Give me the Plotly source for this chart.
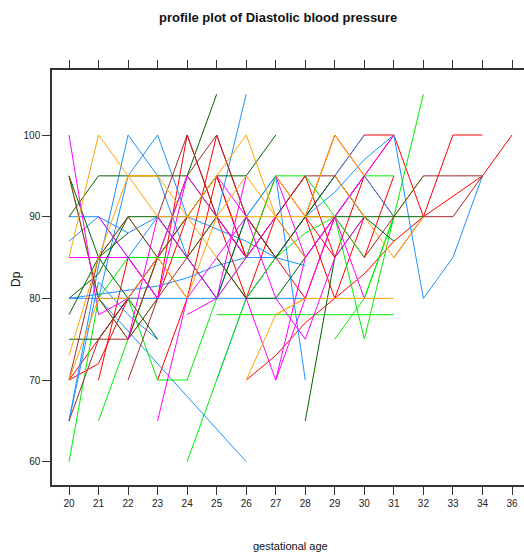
import plotly.graph_objects as go

# category labels of gestational age (x is a factor)
age_levels = ["20","21","22","23","24","25","26","27","28","29","30","31","32","33","34","36"]
y_ticks = [60, 70, 80, 90, 100]

# ---- subjects, grouped by colour: ages and diastolic pressure ----
red_ages = [
    [26,27,28,29,30,31,32,33,34,36],
    [28,29,30,31,32,33,34],
    [20,21,22,23,24,25,26,27,28],
    [21,22,23,24,25,26],
    [22,23,24,25,26,27,28,29,30,31],
    [23,24,25,26,27,28,29,30],
    [24,25,26,27,28,29,30,31],
    [27,28,29,30,31],
    [20,21,22,23,24],
    [25,26,27,28,29],
]
red_dp = [
    [70,73,77,80,83,87,90,92.5,95,100],
    [90,95,100,100,90,100,100],
    [70,75,80,80,90,95,85,90,95],
    [70,85,80,100,90,85],
    [75,85,95,90,80,85,90,85,95,100],
    [70,80,95,85,95,90,80,90],
    [85,100,90,85,80,90,85,95],
    [85,90,100,95,90],
    [70,72,80,85,90],
    [85,80,90,95,85],
]

blue_ages = [
    [20,21,22,23,24,25,26,27,28],
    [20,21,22,23,24,25,26,27,28],
    [20,21,22,23],
    [20,21,22,23,24],
    [21,22,23,24],
    [21,22,23,24,25,26],
    [28,29,30,31,32,33,34],
    [20,21,22,23,24,25,26,27],
    [20,21,22,23],
    [24,25,26],
    [26,27,28],
    [25,26,27,28,29,30],
    [28,29,30,31],
    [22,23,24,25,26,27],
]
blue_dp = [
    [90,90,88,90,90,88.5,87,85,84],
    [80,80,80,80,80,80,80,80,80],
    [87,90,85,80],
    [65,84,100,95,85],
    [80,95,100,90],
    [80,76,72,68,64,60],
    [90,93,97,100,80,85,95],
    [80,80.5,81,81.5,82.5,84,85,85],
    [65,82,78,75],
    [85,90,105],
    [90,95,70],
    [70,80,85,90,95,100],
    [85,90,95,90],
    [85,90,85,80,90,95],
]

green_ages = [
    [20,21,22,23,24,25],
    [21,22,23,24],
    [24,25,26,27],
    [22,23,24,25,26],
    [25,26,27,28,29,30,31],
    [26,27,28,29,30,31],
    [29,30,31,32],
    [27,28,29,30],
    [20,21,22,23],
    [30,31,32],
    [29,30,31],
    [21,22,23,24,25],
]
green_dp = [
    [60,80,85,85,85,90],
    [65,75,85,90],
    [60,70,80,85],
    [80,70,70,80,85],
    [78,78,78,78,78,78,78],
    [85,95,95,90,95,95],
    [90,75,90,105],
    [85,88,90,85],
    [95,80,75,80],
    [80,90,95],
    [75,80,90],
    [85,90,85,95,90],
]

dgreen_ages = [
    [20,21,22,23,24,25],
    [24,25,26,27],
    [20,21,22,23,24],
    [20,21,22,23],
    [28,29,30,31,32],
    [28,29,30],
    [25,26,27,28],
    [20,21,22,23],
    [29,30,31],
    [20,21,22],
    [24,25,26,27,28,29],
]
dgreen_dp = [
    [90,95,95,95,95,105],
    [90,95,95,100],
    [80,83,90,90,85],
    [75,75,80,85],
    [90,90,90,90,90],
    [65,85,90],
    [85,80,80,85],
    [95,85,80,75],
    [95,90,87],
    [78,85,88],
    [85,80,90,85,90,95],
]

brown_ages = [
    [20,21,22,23],
    [21,22,23,24],
    [27,28,29,30],
    [31,32,33,34],
    [30,31,32,33,34],
    [22,23,24,25],
    [23,24,25,26],
    [24,25,26,27],
    [20,21,22,23],
    [20,21,22,23,24],
    [25,26,27,28,29,30],
]
brown_dp = [
    [95,80,75,80],
    [75,75,85,90],
    [90,95,95,90],
    [85,90,90,95],
    [85,90,95,95,95],
    [70,80,85,90],
    [90,100,90,85],
    [95,100,90,85],
    [65,75,80,85],
    [70,85,90,85,80],
    [90,85,90,85,90,95],
]

magenta_ages = [
    [20,21,22,23,24],
    [20,21,22,23],
    [23,24,25,26],
    [24,25,26,27],
    [26,27,28,29],
    [29,30,31],
    [21,22,23,24,25,26],
    [25,26,27,28,29,30],
    [27,28,29,30],
    [27,28,29,30],
    [22,23,24,25,26],
]
magenta_dp = [
    [100,78,80,85,95],
    [85,85,85,80],
    [65,80,85,90],
    [78,80,85,90],
    [80,70,85,90],
    [90,95,100],
    [90,85,80,95,90,85],
    [95,90,80,75,85,90],
    [95,85,90,80],
    [70,80,90,95],
    [75,90,85,80,95],
]

orange_ages = [
    [20,21,22,23,24,25,26,27,28,29],
    [20,21,22,23],
    [22,23,24,25],
    [24,25,26,27],
    [27,28,29,30,31],
    [26,27,28],
    [29,30,31,32],
    [20,21,22,23],
    [27,28,29,30],
    [23,24,25,26,27,28],
]
orange_dp = [
    [85,100,95,90,90,90,90,90,90,90],
    [73,85,95,95],
    [95,95,90,85],
    [90,95,100,90],
    [78,80,80,80,80],
    [70,78,80],
    [95,90,85,90],
    [70,80,80,85],
    [95,90,100,95],
    [85,80,90,95,90,85],
]

groups = [
    ("#FF0000", red_ages, red_dp),
    ("#1E90FF", blue_ages, blue_dp),
    ("#00EE00", green_ages, green_dp),
    ("#006400", dgreen_ages, dgreen_dp),
    ("#A52A2A", brown_ages, brown_dp),
    ("#FF00FF", magenta_ages, magenta_dp),
    ("#FFA500", orange_ages, orange_dp),
]

fig = go.Figure()
for color, ages_list, dp_list in groups:
    for ages, dp in zip(ages_list, dp_list):
        fig.add_trace(go.Scatter(
            x=[str(a) for a in ages], y=dp, mode="lines",
            line=dict(color=color, width=1), showlegend=False,
            hoverinfo="skip"))

# invisible trace for the top axis
fig.add_trace(go.Scatter(x=age_levels, y=[None]*len(age_levels), xaxis="x2",
                         mode="lines", showlegend=False, hoverinfo="skip"))

FONT = "Liberation Sans, Arial, sans-serif"
tick_font = dict(family=FONT, size=10, color="#222")

L, R, T, B = 52, 0, 70, 73
W, H = 524, 558

fig.update_layout(
    width=W, height=H,
    margin=dict(l=L, r=R, t=T, b=B, autoexpand=False),
    paper_bgcolor="white", plot_bgcolor="white",
    xaxis=dict(type="category", categoryorder="array", categoryarray=age_levels,
               range=[-0.576, 15.406], showgrid=False, zeroline=False,
               showline=True, linecolor="#333", linewidth=1.5,
               ticks="outside", ticklen=8, tickcolor="#333", tickwidth=1.2,
               tickfont=tick_font, automargin=False),
    xaxis2=dict(type="category", categoryorder="array", categoryarray=age_levels,
                range=[-0.576, 15.406], overlaying="x", side="top", anchor="y",
                showgrid=False, zeroline=False, showline=True, linecolor="#333",
                linewidth=1.5, ticks="outside", ticklen=8, tickcolor="#333",
                tickwidth=1.2, showticklabels=False, automargin=False),
    yaxis=dict(range=[57.15, 107.96], tickvals=y_ticks, showgrid=False,
               zeroline=False, showline=True, linecolor="#333", linewidth=1.5,
               ticks="outside", ticklen=8, tickcolor="#333", tickwidth=1.2,
               tickfont=tick_font, automargin=False),
)

pw = W - L - R
ph = H - T - B
def px_to_paper(x, y):
    return (x - L) / pw, ((H - y) - B) / ph

ann = []
for text, x, y, size, angle in [
    ("<b>profile plot of Diastolic blood pressure</b>", 278, 17, 13, 0),
    ("gestational age", 290, 546, 11, 0),
    ("Dp", 16, 279, 12, -90),
]:
    px, py = px_to_paper(x, y)
    ann.append(dict(text=text, x=px, y=py, xref="paper", yref="paper",
                    showarrow=False, textangle=angle,
                    xanchor="center", yanchor="middle",
                    font=dict(family=FONT, size=size, color="#111")))
fig.update_layout(annotations=ann)

fig.write_html("out.html", config={"displayModeBar": False},
               post_script="document.body.style.margin='0';document.body.style.overflow='hidden';")
